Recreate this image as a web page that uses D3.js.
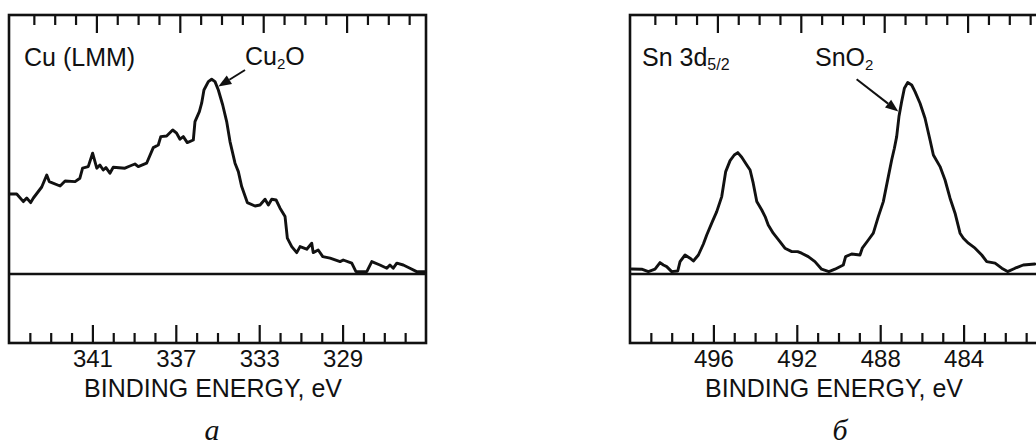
<!DOCTYPE html>
<html>
<head>
<meta charset="utf-8">
<script src="https://cdn.jsdelivr.net/npm/d3@7/dist/d3.min.js"></script>
<style>
  html, body { margin: 0; padding: 0; background: #fff; }
  svg { display: block; }
  text { font-family: "Liberation Sans", Arial, sans-serif; fill: #111; }
</style>
</head>
<body>
<svg id="chart" width="1036" height="446"></svg>
<script>
// ---------- DATA ----------
// Panel a: Cu (LMM) Auger line, binding energy (eV) vs intensity (arb. units)
const cuEnergy = [344.95,344.63,344.31,344.15,343.96,343.83,343.43,343.19,343.07,342.55,342.31,341.83,341.60,341.47,341.20,340.99,340.79,340.64,340.48,340.35,340.16,340.00,339.44,339.20,338.96,338.80,338.40,338.08,337.84,337.72,337.44,337.15,336.96,336.80,336.64,336.45,336.16,336.08,335.87,335.76,335.65,335.44,335.28,335.12,334.96,334.75,334.56,334.40,334.16,334.00,333.84,333.57,333.20,332.96,332.72,332.56,332.40,332.19,332.00,331.76,331.65,331.44,331.20,331.04,330.72,330.48,330.41,330.17,329.95,329.60,329.12,328.97,328.56,328.36,327.84,327.60,327.21,326.88,326.73,326.57,326.40,326.09,325.77,325.45,325.05];
const cuIntensity = [40.0,40.0,36.2,38.0,35.7,38.0,43.5,49.5,46.2,44.0,46.5,46.2,47.9,52.9,53.7,60.4,52.9,54.5,52.0,53.2,50.4,53.4,52.9,54.0,55.0,53.7,55.4,63.2,64.5,68.7,69.0,72.0,70.4,67.4,68.7,65.7,67.0,76.2,81.2,85.4,92.0,96.2,97.4,96.2,92.0,84.5,76.2,66.2,55.4,51.2,43.7,35.7,34.0,34.5,37.4,34.5,37.4,37.0,32.9,28.7,17.9,13.7,10.7,13.7,12.4,15.4,10.7,12.0,8.7,7.9,6.2,7.0,5.4,1.2,1.2,6.2,4.5,2.9,4.5,2.9,5.4,4.5,2.9,1.2,1.2];

// Panel b: Sn 3d5/2 region
const snEnergy = [499.92,499.44,499.12,498.80,498.56,498.40,498.24,498.00,497.71,497.60,497.36,497.12,496.96,496.72,496.48,496.32,496.05,495.84,495.60,495.41,495.20,495.00,494.83,494.64,494.40,494.24,494.09,493.92,493.68,493.52,493.37,493.13,492.81,492.57,492.24,491.96,491.77,491.45,491.13,490.81,490.46,490.17,489.77,489.66,489.37,488.97,488.86,488.57,488.33,488.09,487.85,487.61,487.45,487.32,487.21,487.10,486.97,486.84,486.68,486.49,486.33,486.09,485.85,485.61,485.45,485.13,484.89,484.65,484.41,484.17,484.01,483.77,483.45,483.13,482.89,482.49,482.17,481.89,481.53,481.14,480.58];
const snIntensity = [2.5,2.4,1.2,2.4,5.7,4.5,3.7,1.2,1.5,6.2,9.5,7.9,6.5,9.5,15.0,19.5,26.2,31.2,38.7,51.2,56.7,59.5,60.7,58.4,54.5,52.0,45.4,36.2,32.0,28.7,24.5,20.4,16.2,12.9,11.2,11.2,10.4,8.7,6.2,2.4,1.2,2.4,4.5,8.7,10.0,9.5,12.9,17.0,20.4,28.7,36.2,48.7,57.0,62.9,68.7,78.7,86.2,92.9,95.7,94.5,91.2,85.4,77.9,67.0,59.5,53.7,47.0,37.9,30.4,20.4,17.9,15.4,12.9,9.5,6.2,5.4,2.9,1.2,2.9,4.5,5.0];

// Axis ranges and tick labels
const cuDomain = [345, 325];
const snDomain = [500, 480];
const cuTickLabels = [341, 337, 333, 329];
const snTickLabels = [496, 492, 488, 484];
const cuMinorTicks = d3.range(326, 345).filter(v => !cuTickLabels.includes(v));
const snMinorTicks = d3.range(481, 500).filter(v => !snTickLabels.includes(v));
const intensityDomain = [-34.5, 129.5];

// ---------- LAYOUT ----------
const svg = d3.select("#chart");
const plotTop = 15, plotBottom = 343;
const panelW = 417;
const fontMain = 25;

const yScale = d3.scaleLinear().domain(intensityDomain).range([plotBottom, plotTop]);

function panel(opts) {
  const { left, domain, energy, intensity, majors, minors, letter, arrow } = opts;
  const g = svg.append("g");
  const x = d3.scaleLinear().domain(domain).range([left, left + panelW]);
  const xTop = d3.scaleLinear().domain(domain).range([left + 4, left + panelW + 4]);

  // frame
  g.append("rect")
    .attr("x", left).attr("y", plotTop)
    .attr("width", panelW).attr("height", plotBottom - plotTop)
    .attr("fill", "none").attr("stroke", "#111").attr("stroke-width", 2.6);

  // axes: majors with labels, minors
  const bMaj = g.append("g").attr("transform", `translate(0,${plotBottom})`)
    .call(d3.axisBottom(x).tickValues(majors).tickSize(-18).tickPadding(7).tickFormat(d3.format("d")));
  const bMin = g.append("g").attr("transform", `translate(0,${plotBottom})`)
    .call(d3.axisBottom(x).tickValues(minors).tickSize(-10).tickFormat(""));
  const tMaj = g.append("g").attr("transform", `translate(0,${plotTop})`)
    .call(d3.axisTop(xTop).tickValues(majors).tickSize(-18).tickFormat(""));
  const tMin = g.append("g").attr("transform", `translate(0,${plotTop})`)
    .call(d3.axisTop(xTop).tickValues(minors).tickSize(-10).tickFormat(""));
  [bMaj, bMin, tMaj, tMin].forEach(a => {
    a.select(".domain").remove();
    a.selectAll("line").attr("stroke", "#111").attr("stroke-width", 2.2);
  });
  bMaj.selectAll("text")
    .attr("fill", "#111")
    .style("font-family", '"Liberation Sans", Arial, sans-serif')
    .style("font-size", "24px");

  // zero line
  g.append("line")
    .attr("x1", left).attr("x2", left + panelW)
    .attr("y1", yScale(0)).attr("y2", yScale(0))
    .attr("stroke", "#111").attr("stroke-width", 2.6);

  // spectrum
  const pts = energy.map((e, i) => [e, intensity[i]]);
  g.append("path")
    .datum(pts)
    .attr("fill", "none")
    .attr("stroke", "#111")
    .attr("stroke-width", 2.9)
    .attr("stroke-linejoin", "round")
    .attr("stroke-linecap", "round")
    .attr("d", d3.line().x(d => x(d[0])).y(d => yScale(d[1])));

  // arrow
  const x1 = x(arrow.from[0]), y1 = yScale(arrow.from[1]);
  const x2 = x(arrow.to[0]), y2 = yScale(arrow.to[1]);
  const ang = Math.atan2(y2 - y1, x2 - x1);
  const hl = 13, hw = 5;
  const bx = x2 - hl * Math.cos(ang), by = y2 - hl * Math.sin(ang);
  g.append("line")
    .attr("x1", x1).attr("y1", y1).attr("x2", bx).attr("y2", by)
    .attr("stroke", "#111").attr("stroke-width", 2);
  g.append("path")
    .attr("d", `M${x2},${y2}L${bx - hw * Math.sin(ang)},${by + hw * Math.cos(ang)}L${bx + hw * Math.sin(ang)},${by - hw * Math.cos(ang)}Z`)
    .attr("fill", "#111");

  // axis title
  g.append("text")
    .attr("x", left + 204).attr("y", 397)
    .attr("text-anchor", "middle")
    .style("font-size", fontMain + "px")
    .text("BINDING ENERGY, eV");

  // panel letter
  g.append("text")
    .attr("x", left + letter.dx).attr("y", 440)
    .attr("text-anchor", "middle")
    .style("font-family", '"Liberation Serif", "Times New Roman", serif')
    .style("font-style", "italic")
    .style("font-size", "30px")
    .text(letter.t);

  return g;
}

// Panel a
const ga = panel({
  left: 9, domain: cuDomain, energy: cuEnergy, intensity: cuIntensity,
  majors: cuTickLabels, minors: cuMinorTicks,
  letter: { t: "a", dx: 203 },
  arrow: { from: [333.68, 102.0], to: [334.96, 93.7] }
});
ga.append("text").attr("x", 24).attr("y", 66).style("font-size", fontMain + "px").text("Cu (LMM)");
const cuo = ga.append("text").attr("x", 245).attr("y", 65).style("font-size", fontMain + "px");
cuo.append("tspan").text("Cu");
cuo.append("tspan").attr("dy", 4).style("font-size", "15px").text("2");
cuo.append("tspan").attr("dy", -4).text("O");

// Panel b
const gb = panel({
  left: 630, domain: snDomain, energy: snEnergy, intensity: snIntensity,
  majors: snTickLabels, minors: snMinorTicks,
  letter: { t: "б", dx: 210 },
  arrow: { from: [489.13, 97.4], to: [487.13, 81.2] }
});
const sn = gb.append("text").attr("x", 642).attr("y", 66).style("font-size", fontMain + "px");
sn.append("tspan").text("Sn 3d");
sn.append("tspan").attr("dy", 4).style("font-size", "16px").text("5/2");
const sno = gb.append("text").attr("x", 815).attr("y", 66).style("font-size", fontMain + "px");
sno.append("tspan").text("SnO");
sno.append("tspan").attr("dy", 4).style("font-size", "15px").text("2");
</script>
</body>
</html>
